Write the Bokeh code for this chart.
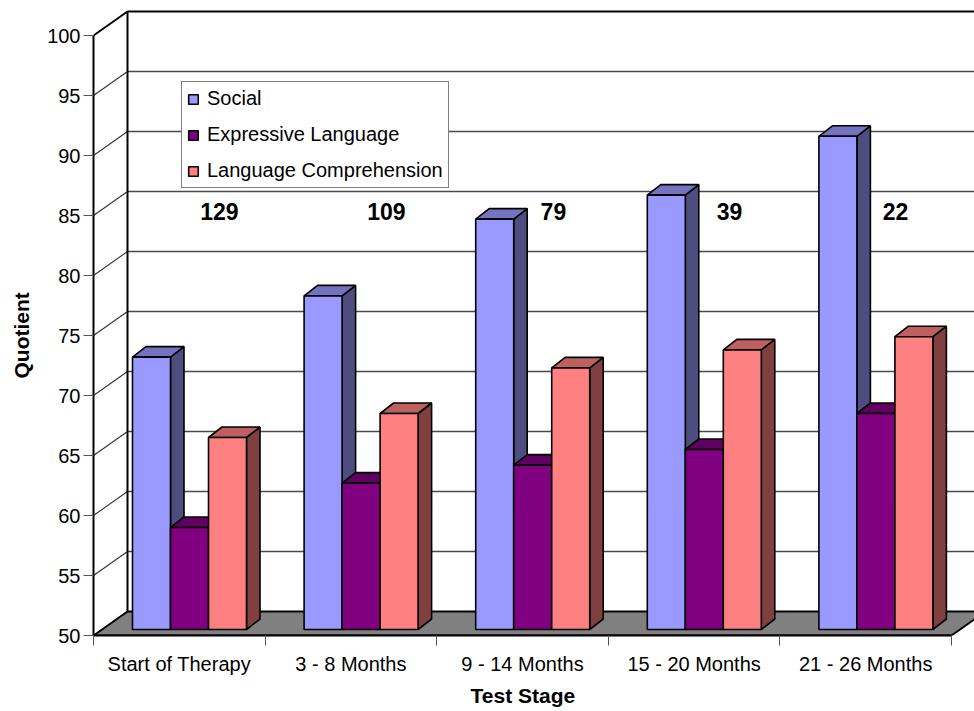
import math
from bokeh.plotting import figure
from bokeh.models import Range1d, FixedTicker, Legend, LegendItem, Title
from bokeh.core.properties import value
from bokeh.embed import file_html
from bokeh.resources import INLINE

categories = ["Start of Therapy", "3 - 8 Months", "9 - 14 Months", "15 - 20 Months", "21 - 26 Months"]
social = [72.7, 77.8, 84.2, 86.2, 91.1]
expressive = [58.5, 62.2, 63.7, 65.0, 68.0]
comprehension = [66.0, 68.0, 71.8, 73.3, 74.4]
counts = ["129", "109", "79", "39", "22"]
count_x = [0.734, 1.707, 2.68, 3.706, 4.674]
count_y = 85.3
y_ticks = [50, 55, 60, 65, 70, 75, 80, 85, 90, 95, 100]

FONT = "Liberation Sans"
PX_X = 171.6          # pixels per category
PX_Y = 12.0           # pixels per quotient unit
WALL_DX, WALL_DY = 34 / PX_X, 24 / PX_Y
BAR_DX, BAR_DY = 13.5 / PX_X, 10.5 / PX_Y
BAR_W = 38 / PX_X
GROUP_L = 39 / PX_X
BASE = 50 + 6 / PX_Y

W, H = 974, 711
LEFT, BOTTOM = 93, 76
p = figure(width=W, height=H, output_backend="svg", toolbar_location=None,
           x_range=Range1d(0, (W - LEFT) / PX_X),
           y_range=Range1d(50, 50 + (H - BOTTOM) / PX_Y),
           min_border_left=LEFT, min_border_bottom=BOTTOM, min_border_top=0, min_border_right=0,
           outline_line_color=None, background_fill_color="white", border_fill_color="white")
p.grid.visible = False

# walls and floor
n = len(categories)
inner = y_ticks[1:-1]
p.segment(x0=[WALL_DX] * len(inner), x1=[(W - LEFT) / PX_X + 1] * len(inner),
          y0=[t + WALL_DY for t in inner], y1=[t + WALL_DY for t in inner],
          line_color="#4a4a4a", line_width=1.3)
p.segment(x0=[0] * len(inner), x1=[WALL_DX] * len(inner), y0=inner,
          y1=[t + WALL_DY for t in inner], line_color="#333333", line_width=1.1)
p.patch(x=[0, WALL_DX, n + WALL_DX, n], y=[50, 50 + WALL_DY, 50 + WALL_DY, 50],
        fill_color="#808080", line_color="black", line_width=2)
p.line(x=[0, WALL_DX, WALL_DX], y=[100, 100 + WALL_DY, 50 + WALL_DY], line_color="black", line_width=2)
p.line(x=[WALL_DX, (W - LEFT) / PX_X + 1], y=[100 + WALL_DY] * 2, line_color="black", line_width=2)

# bars
series = [("Social", social, "#9999FF", "#7373BF", "#4D4D80"),
          ("Expressive Language", expressive, "#800080", "#600060", "#400040"),
          ("Language Comprehension", comprehension, "#FF8080", "#BF6060", "#804040")]
items = []
for s, (name, vals, front, top, side) in enumerate(series):
    lefts = [i + GROUP_L + s * BAR_W for i in range(n)]
    rights = [l + BAR_W for l in lefts]
    tops = [v - 50 + BASE for v in vals]
    p.patches(xs=[[r, r + BAR_DX, r + BAR_DX, r] for r in rights],
              ys=[[BASE, BASE + BAR_DY, t + BAR_DY, t] for t in tops],
              fill_color=side, line_color="black", line_width=1.6)
    p.patches(xs=[[l, l + BAR_DX, r + BAR_DX, r] for l, r in zip(lefts, rights)],
              ys=[[t, t + BAR_DY, t + BAR_DY, t] for t in tops],
              fill_color=top, line_color="black", line_width=1.6)
    q = p.quad(left=lefts, right=rights, bottom=[BASE] * n, top=tops,
               fill_color=front, line_color="black", line_width=1.6)
    items.append(LegendItem(label=name, renderers=[q]))

p.text(x=count_x, y=[count_y] * n, text=counts, text_align="center", text_baseline="middle",
       text_font=value(FONT), text_font_style="bold", text_font_size="23px", text_color="black")

# axes
ya = p.yaxis[0]
ya.ticker = FixedTicker(ticks=y_ticks, minor_ticks=[])
ya.bounds = (50, 100)
ya.axis_line_width = 2
ya.major_tick_out = 10
ya.major_tick_in = 0
ya.major_tick_line_color = "#555555"
ya.major_label_standoff = 3
ya.major_label_text_font = FONT
ya.major_label_text_font_size = "20px"
ya.major_label_text_color = "black"

xa = p.xaxis[0]
xa.ticker = FixedTicker(ticks=[i + 0.5 for i in range(n)], minor_ticks=list(range(n + 1)))
xa.major_label_overrides = {i + 0.5: c for i, c in enumerate(categories)}
xa.bounds = (0, n)
xa.axis_line_width = 2
xa.major_tick_out = 0
xa.major_tick_in = 0
xa.minor_tick_out = 10
xa.minor_tick_in = 0
xa.minor_tick_line_color = "#555555"
xa.major_label_standoff = 7
xa.major_label_text_font = FONT
xa.major_label_text_font_size = "20px"
xa.major_label_text_color = "black"

# axis titles sit off the frame's centre, as in the reference
p.add_layout(Title(text="Quotient", align="left", offset=257, standoff=19, vertical_align="top",
                   text_font=FONT, text_font_style="bold", text_font_size="21px", text_color="black"), "left")
p.add_layout(Title(text="Test Stage", align="left", offset=377, standoff=9, vertical_align="bottom",
                   text_font=FONT, text_font_style="bold", text_font_size="21px", text_color="black"), "below")

legend = Legend(items=items, location=(88, 447), glyph_width=12, glyph_height=12,
                label_standoff=8, spacing=13, padding=5, margin=0,
                label_text_font=FONT, label_text_font_size="20px", label_text_color="black",
                label_height=23, border_line_color="black", border_line_width=1,
                background_fill_color="white", background_fill_alpha=1)
p.add_layout(legend)

open("out.html", "w").write(file_html(p, INLINE))
